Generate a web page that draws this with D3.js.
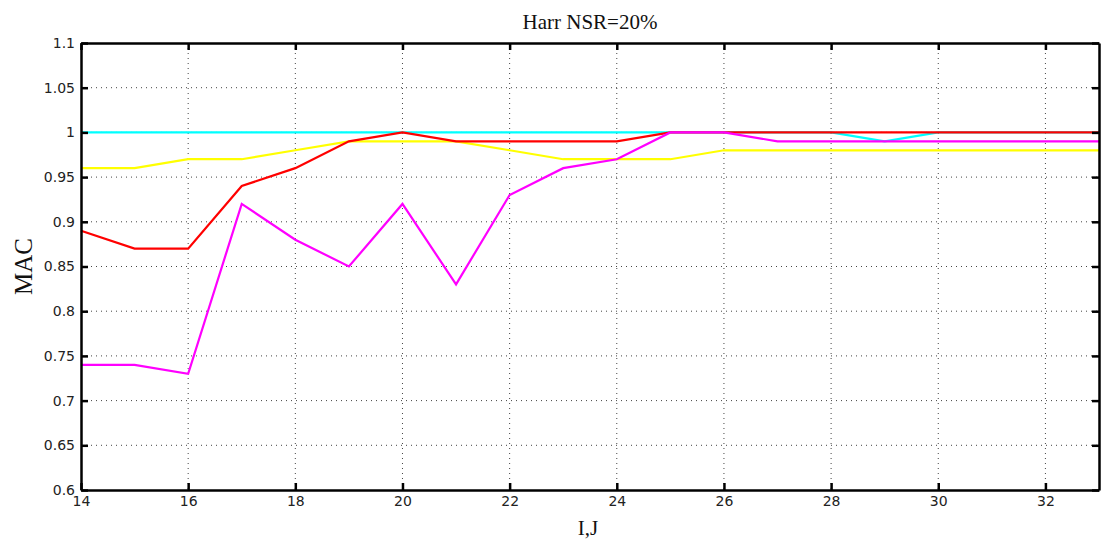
<!DOCTYPE html>
<html>
<head>
<meta charset="utf-8">
<script src="https://cdn.jsdelivr.net/npm/d3@7/dist/d3.min.js"></script>
<style>
  body { margin: 0; background: #fff; }
  .tickText { font-family: 'DejaVu Sans', sans-serif; font-size: 14px; fill: #222; }
  .labelText { font-family: 'Liberation Serif', 'Times New Roman', serif; fill: #111; }
</style>
</head>
<body>
<svg id="svg_mac"></svg>
<script>
const ij = [14, 15, 16, 17, 18, 19, 20, 21, 22, 23, 24, 25, 26, 27, 28, 29, 30, 31, 32, 33];

const cyanMac = [1, 1, 1, 1, 1, 1, 1, 1, 1, 1, 1, 1, 1, 1, 1, 0.99, 1, 1, 1, 1];
const yellowMac = [0.96, 0.96, 0.97, 0.97, 0.98, 0.99, 0.99, 0.99, 0.98, 0.97, 0.97, 0.97, 0.98, 0.98, 0.98, 0.98, 0.98, 0.98, 0.98, 0.98];
const redMac = [0.89, 0.87, 0.87, 0.94, 0.96, 0.99, 1, 0.99, 0.99, 0.99, 0.99, 1, 1, 1, 1, 1, 1, 1, 1, 1];
const magentaMac = [0.74, 0.74, 0.73, 0.92, 0.88, 0.85, 0.92, 0.83, 0.93, 0.96, 0.97, 1, 1, 0.99, 0.99, 0.99, 0.99, 0.99, 0.99, 0.99];

const xTicks = [14, 16, 18, 20, 22, 24, 26, 28, 30, 32];
const yTicks = [0.6, 0.65, 0.7, 0.75, 0.8, 0.85, 0.9, 0.95, 1, 1.05, 1.1];

const width = 1102;
const height = 546;
const margin = { top: 43, right: 3, bottom: 56, left: 81 };

const svg = d3.select('#svg_mac')
  .attr('width', width)
  .attr('height', height);

const x = d3.scaleLinear()
  .domain([14, 33])
  .range([margin.left, width - margin.right]);

const y = d3.scaleLinear()
  .domain([0.6, 1.1])
  .range([height - margin.bottom, margin.top]);

// dotted grid
const grid = svg.append('g');
grid.selectAll('line.vx')
  .data(xTicks.filter((d) => d > 14))
  .enter()
  .append('line')
  .attr('x1', (d) => x(d)).attr('x2', (d) => x(d))
  .attr('y1', y(1.1)).attr('y2', y(0.6))
  .attr('stroke', '#444')
  .attr('stroke-dasharray', '1,4');
grid.selectAll('line.hy')
  .data(yTicks.filter((d) => d > 0.6 && d < 1.1))
  .enter()
  .append('line')
  .attr('x1', x(14)).attr('x2', x(33))
  .attr('y1', (d) => y(d)).attr('y2', (d) => y(d))
  .attr('stroke', '#444')
  .attr('stroke-dasharray', '1,4');

// series
const series = [
  { values: cyanMac, color: '#00ffff' },
  { values: yellowMac, color: '#ffff00' },
  { values: redMac, color: '#ff0000' },
  { values: magentaMac, color: '#ff00ff' },
];

const line = d3.line()
  .x((d, i) => x(ij[i]))
  .y((d) => y(d));

svg.append('g')
  .selectAll('path')
  .data(series)
  .enter()
  .append('path')
  .attr('d', (d) => line(d.values))
  .attr('fill', 'none')
  .attr('stroke', (d) => d.color)
  .attr('stroke-width', 2.2);

// axes, ticks pointing in
const fmt = (d) => String(+d.toFixed(2));

const axes = [
  svg.append('g').attr('transform', `translate(0,${y(0.6)})`)
    .call(d3.axisBottom(x).tickValues(xTicks).tickSize(-7).tickSizeOuter(0).tickPadding(6).tickFormat(fmt)),
  svg.append('g').attr('transform', `translate(${x(14)},0)`)
    .call(d3.axisLeft(y).tickValues(yTicks).tickSize(-7).tickSizeOuter(0).tickPadding(6).tickFormat(fmt)),
  svg.append('g').attr('transform', `translate(0,${y(1.1)})`)
    .call(d3.axisTop(x).tickValues(xTicks).tickSize(-7).tickSizeOuter(0).tickFormat('')),
  svg.append('g').attr('transform', `translate(${x(33)},0)`)
    .call(d3.axisRight(y).tickValues(yTicks).tickSize(-7).tickSizeOuter(0).tickFormat('')),
];

axes.forEach((a) => {
  a.select('.domain').attr('stroke', '#000').attr('stroke-width', 2.5);
  a.selectAll('.tick line').attr('stroke', '#000').attr('stroke-width', 2.5);
  a.selectAll('.tick text').attr('class', 'tickText').attr('font-family', null).attr('font-size', null);
  a.attr('font-family', null).attr('font-size', null);
});

// labels
svg.append('text')
  .attr('class', 'labelText')
  .attr('x', x(23.5))
  .attr('y', 29)
  .attr('text-anchor', 'middle')
  .style('font-size', '21px')
  .text('Harr NSR=20%');

svg.append('text')
  .attr('class', 'labelText')
  .attr('x', 588)
  .attr('y', 535)
  .attr('text-anchor', 'middle')
  .style('font-size', '21px')
  .text('I,J');

svg.append('text')
  .attr('class', 'labelText')
  .attr('transform', `translate(32, ${y(0.85)}) rotate(-90)`)
  .attr('text-anchor', 'middle')
  .style('font-size', '25px')
  .text('MAC');
</script>
</body>
</html>
